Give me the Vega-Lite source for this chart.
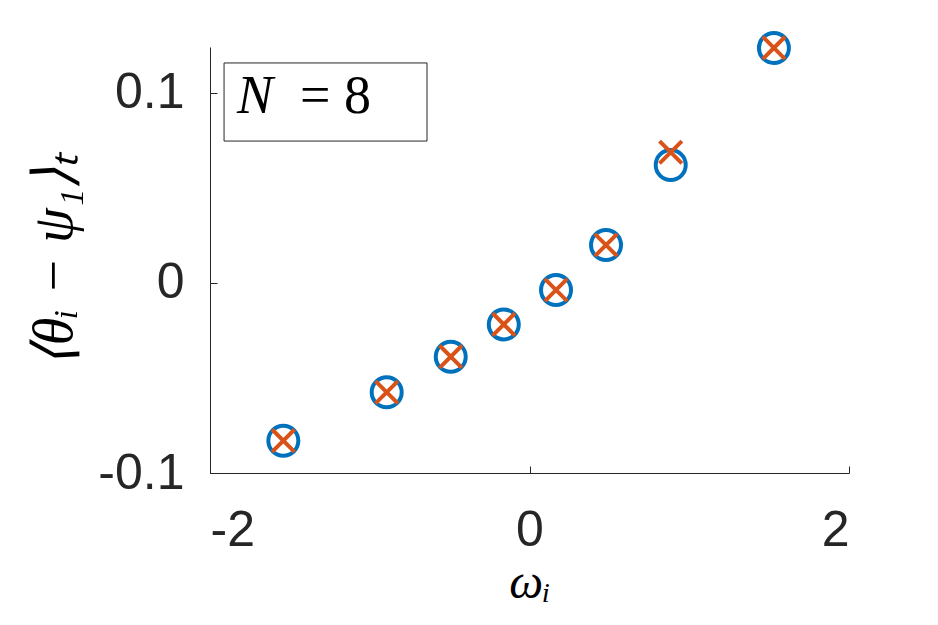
{
  "$schema": "https://vega.github.io/schema/vega-lite/v6.json",
  "width": 639,
  "height": 426,
  "autosize": "none",
  "padding": {"left": 210, "top": 47, "right": 89, "bottom": 152},
  "background": "white",
  "config": {
    "view": {"stroke": null},
    "axis": {
      "domainColor": "#262626",
      "domainWidth": 1,
      "tickColor": "#262626",
      "tickWidth": 1,
      "tickSize": -7,
      "labelColor": "#262626",
      "labelFont": "Liberation Sans",
      "labelFontSize": 50,
      "grid": false,
      "titleFont": "Liberation Serif",
      "titleFontStyle": "italic",
      "titleFontWeight": "normal",
      "titleColor": "#000000"
    }
  },
  "datasets": {
    "pts": [
      {"w": -1.541, "circ": -0.0830, "cross": -0.0830},
      {"w": -0.894, "circ": -0.0575, "cross": -0.0575},
      {"w": -0.493, "circ": -0.0388, "cross": -0.0388},
      {"w": -0.161, "circ": -0.0218, "cross": -0.0218},
      {"w": 0.166, "circ": -0.0037, "cross": -0.0037},
      {"w": 0.479, "circ": 0.0200, "cross": 0.0200},
      {"w": 0.884, "circ": 0.0621, "cross": 0.0688},
      {"w": 1.530, "circ": 0.1237, "cross": 0.1237}
    ],
    "box": [{"x1": -1.912, "x2": -0.6416, "y1": 0.1158, "y2": 0.0747}],
    "lab": [
      {"x": -1.831, "y": 0.0895, "t": "N", "st": "italic"},
      {"x": -1.437, "y": 0.0895, "t": "= 8", "st": "normal"}
    ]
  },
  "layer": [
    {
      "data": {"name": "pts"},
      "mark": {"type": "point", "shape": "circle", "filled": false, "stroke": "#0072BD", "strokeWidth": 4, "size": 900, "opacity": 1},
      "encoding": {
        "x": {
          "field": "w", "type": "quantitative",
          "scale": {"domain": [-2, 2], "nice": false, "zero": false},
          "axis": {"values": [-2, 0, 2], "title": "ωᵢ", "titleFontSize": 48, "labelPadding": 39, "titlePadding": 4, "labelExpr": "replace(format(datum.value, ''), '−', '-')"}
        },
        "y": {
          "field": "circ", "type": "quantitative",
          "scale": {"domain": [-0.1, 0.1242], "nice": false, "zero": false},
          "axis": {"values": [-0.1, 0, 0.1], "title": "⟨θᵢ  −  ψ₁⟩ₜ", "titleFontSize": 56, "labelPadding": 33, "titlePadding": 14, "labelExpr": "replace(format(datum.value, ''), '−', '-')"}
        }
      }
    },
    {
      "data": {"name": "pts"},
      "mark": {"type": "point", "shape": "M-1,-1L1,1M-1,1L1,-1", "filled": false, "stroke": "#D95319", "strokeWidth": 4, "size": 500, "opacity": 1},
      "encoding": {
        "x": {"field": "w", "type": "quantitative"},
        "y": {"field": "cross", "type": "quantitative"}
      }
    },
    {
      "data": {"name": "box"},
      "mark": {"type": "rect", "fill": "white", "stroke": "#262626", "strokeWidth": 1},
      "encoding": {
        "x": {"field": "x1", "type": "quantitative"},
        "x2": {"field": "x2"},
        "y": {"field": "y1", "type": "quantitative"},
        "y2": {"field": "y2"}
      }
    },
    {
      "data": {"name": "lab"},
      "transform": [{"filter": "datum.st == 'italic'"}],
      "mark": {"type": "text", "font": "Liberation Serif", "fontStyle": "italic", "fontSize": 54, "align": "left", "baseline": "alphabetic", "color": "#000000"},
      "encoding": {
        "x": {"field": "x", "type": "quantitative"},
        "y": {"field": "y", "type": "quantitative"},
        "text": {"field": "t"}
      }
    },
    {
      "data": {"name": "lab"},
      "transform": [{"filter": "datum.st == 'normal'"}],
      "mark": {"type": "text", "font": "Liberation Serif", "fontSize": 54, "align": "left", "baseline": "alphabetic", "color": "#000000"},
      "encoding": {
        "x": {"field": "x", "type": "quantitative"},
        "y": {"field": "y", "type": "quantitative"},
        "text": {"field": "t"}
      }
    }
  ]
}
